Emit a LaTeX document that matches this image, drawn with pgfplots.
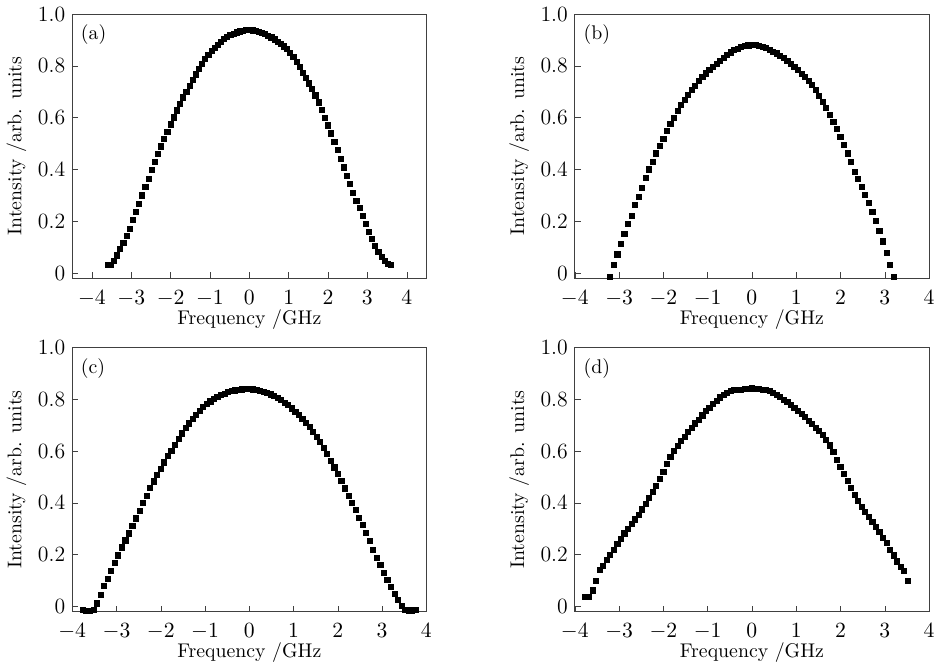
\documentclass[border=0pt]{standalone}
\usepackage{pgfplots}
\pgfplotsset{compat=1.18}
\usepgfplotslibrary{groupplots}
\pgfplotsset{sq/.style={black, only marks, mark=square*, mark size=1.3pt}}
\begin{document}
\begin{tikzpicture}[font=\fontsize{10}{12}\selectfont]
\begin{groupplot}[
  group style={group size=2 by 2, horizontal sep=75pt, vertical sep=35pt},
  width=179pt, height=133.5pt, scale only axis,
  xmin=-4, xmax=4, ymin=-0.02, ymax=1.0,
  xtick={-4,...,4},
  ytick={0,0.2,0.4,0.6,0.8,1.0}, yticklabels={0,0.2,0.4,0.6,0.8,1.0},
  tick align=inside, xtick pos=bottom, ytick pos=left,
  major tick length=3pt,
  tick label style={font=\fontsize{11}{13}\selectfont},
  xticklabel style={yshift=-2.5pt},
  axis line style={black!75}, tick style={black!75},
  xlabel={Frequency /GHz}, ylabel={Intensity /arb. units},
  xlabel style={yshift=5pt}, ylabel style={yshift=-1pt},
]
% (a)
\nextgroupplot[xmin=-4.5, xmax=4.5]
\addplot[sq] coordinates {
(-3.60,0.030) (-3.52,0.032) (-3.44,0.048) (-3.36,0.068) (-3.28,0.092) (-3.20,0.118)
(-3.12,0.145) (-3.04,0.172) (-2.96,0.205) (-2.88,0.237) (-2.80,0.268) (-2.72,0.300)
(-2.64,0.333) (-2.56,0.365) (-2.48,0.397) (-2.40,0.428) (-2.32,0.459) (-2.24,0.489)
(-2.16,0.518) (-2.08,0.546) (-2.00,0.574) (-1.92,0.601) (-1.84,0.628) (-1.76,0.654)
(-1.68,0.678) (-1.60,0.701) (-1.52,0.724) (-1.44,0.746) (-1.36,0.767) (-1.28,0.788)
(-1.20,0.808) (-1.12,0.826) (-1.04,0.842) (-0.96,0.857) (-0.88,0.870) (-0.80,0.882)
(-0.72,0.893) (-0.64,0.903) (-0.56,0.911) (-0.48,0.918) (-0.40,0.924) (-0.32,0.929)
(-0.24,0.933) (-0.16,0.936) (-0.08,0.938) (0.00,0.940) (0.08,0.937) (0.16,0.934)
(0.24,0.930) (0.32,0.926) (0.40,0.922) (0.48,0.917) (0.56,0.910) (0.64,0.902)
(0.72,0.893) (0.80,0.884) (0.88,0.875) (0.96,0.864) (1.04,0.850) (1.12,0.834)
(1.20,0.815) (1.28,0.795) (1.36,0.774) (1.44,0.753) (1.52,0.732) (1.60,0.710)
(1.68,0.686) (1.76,0.659) (1.84,0.630) (1.92,0.600) (2.00,0.570) (2.08,0.539)
(2.16,0.507) (2.24,0.474) (2.32,0.441) (2.40,0.408) (2.48,0.376) (2.56,0.343)
(2.64,0.311) (2.72,0.280) (2.80,0.250) (2.88,0.220) (2.96,0.190) (3.04,0.160)
(3.12,0.131) (3.20,0.105) (3.28,0.082) (3.36,0.062) (3.44,0.046) (3.52,0.034)
(3.60,0.030)
};
\node[anchor=north west] at (rel axis cs:0.005,0.985) {(a)};
% (b)
\nextgroupplot
\addplot[sq] coordinates {
(-3.20,-0.015) (-3.12,0.030) (-3.04,0.072) (-2.96,0.112) (-2.88,0.150) (-2.80,0.190)
(-2.72,0.222) (-2.64,0.262) (-2.56,0.295) (-2.48,0.330) (-2.40,0.368) (-2.32,0.400)
(-2.24,0.430) (-2.16,0.462) (-2.08,0.490) (-2.00,0.518) (-1.92,0.548) (-1.84,0.575)
(-1.76,0.600) (-1.68,0.625) (-1.60,0.648) (-1.52,0.668) (-1.44,0.688) (-1.36,0.706)
(-1.28,0.724) (-1.20,0.741) (-1.12,0.756) (-1.04,0.771) (-0.96,0.785) (-0.88,0.797)
(-0.80,0.808) (-0.72,0.819) (-0.64,0.832) (-0.56,0.843) (-0.48,0.852) (-0.40,0.860)
(-0.32,0.866) (-0.24,0.872) (-0.16,0.876) (-0.08,0.879) (0.00,0.881) (0.08,0.880)
(0.16,0.877) (0.24,0.873) (0.32,0.868) (0.40,0.862) (0.48,0.855) (0.56,0.848)
(0.64,0.839) (0.72,0.830) (0.80,0.819) (0.88,0.807) (0.96,0.795) (1.04,0.783)
(1.12,0.770) (1.20,0.757) (1.28,0.742) (1.36,0.726) (1.44,0.706) (1.52,0.684)
(1.60,0.661) (1.68,0.636) (1.76,0.610) (1.84,0.584) (1.92,0.556) (2.00,0.526)
(2.08,0.495) (2.16,0.462) (2.24,0.428) (2.32,0.392) (2.40,0.362) (2.48,0.333)
(2.56,0.302) (2.64,0.270) (2.72,0.235) (2.80,0.200) (2.88,0.163) (2.96,0.122)
(3.04,0.078) (3.12,0.032) (3.20,-0.015)
};
\node[anchor=north west] at (rel axis cs:0.005,0.985) {(b)};
% (c)
\nextgroupplot
\addplot[sq] coordinates {
(-3.76,-0.013) (-3.68,-0.016) (-3.60,-0.016) (-3.52,-0.014) (-3.44,0.012) (-3.36,0.045)
(-3.28,0.078) (-3.20,0.105) (-3.12,0.137) (-3.04,0.168) (-2.96,0.197) (-2.88,0.228)
(-2.80,0.255) (-2.72,0.282) (-2.64,0.310) (-2.56,0.340) (-2.48,0.370) (-2.40,0.400)
(-2.32,0.428) (-2.24,0.457) (-2.16,0.483) (-2.08,0.508) (-2.00,0.532) (-1.92,0.556)
(-1.84,0.580) (-1.76,0.602) (-1.68,0.624) (-1.60,0.646) (-1.52,0.668) (-1.44,0.688)
(-1.36,0.707) (-1.28,0.725) (-1.20,0.741) (-1.12,0.756) (-1.04,0.769) (-0.96,0.781)
(-0.88,0.792) (-0.80,0.801) (-0.72,0.809) (-0.64,0.816) (-0.56,0.822) (-0.48,0.827)
(-0.40,0.831) (-0.32,0.834) (-0.24,0.836) (-0.16,0.838) (-0.08,0.839) (0.00,0.839)
(0.08,0.838) (0.16,0.836) (0.24,0.833) (0.32,0.829) (0.40,0.825) (0.48,0.819)
(0.56,0.812) (0.64,0.804) (0.72,0.796) (0.80,0.787) (0.88,0.777) (0.96,0.765)
(1.04,0.752) (1.12,0.739) (1.20,0.725) (1.28,0.709) (1.36,0.692) (1.44,0.674)
(1.52,0.656) (1.60,0.635) (1.68,0.612) (1.76,0.588) (1.84,0.563) (1.92,0.537)
(2.00,0.511) (2.08,0.484) (2.16,0.456) (2.24,0.428) (2.32,0.400) (2.40,0.372)
(2.48,0.343) (2.56,0.314) (2.64,0.284) (2.72,0.252) (2.80,0.220) (2.88,0.189)
(2.96,0.160) (3.04,0.131) (3.12,0.103) (3.20,0.077) (3.28,0.050) (3.36,0.024)
(3.44,0.002) (3.52,-0.013) (3.60,-0.015) (3.68,-0.015) (3.76,-0.012)
};
\node[anchor=north west] at (rel axis cs:0.005,0.985) {(c)};
% (d)
\nextgroupplot
\addplot[sq] coordinates {
(-3.76,0.036) (-3.68,0.036) (-3.60,0.062) (-3.52,0.100) (-3.44,0.140) (-3.36,0.158)
(-3.28,0.180) (-3.20,0.200) (-3.12,0.220) (-3.04,0.240) (-2.96,0.262) (-2.88,0.282)
(-2.80,0.300) (-2.72,0.318) (-2.64,0.336) (-2.56,0.355) (-2.48,0.375) (-2.40,0.396)
(-2.32,0.418) (-2.24,0.442) (-2.16,0.467) (-2.08,0.493) (-2.00,0.518) (-1.92,0.550)
(-1.84,0.578) (-1.76,0.600) (-1.68,0.620) (-1.60,0.638) (-1.52,0.656) (-1.44,0.673)
(-1.36,0.690) (-1.28,0.707) (-1.20,0.722) (-1.12,0.738) (-1.04,0.754) (-0.96,0.768)
(-0.88,0.781) (-0.80,0.795) (-0.72,0.807) (-0.64,0.818) (-0.56,0.826) (-0.48,0.832)
(-0.40,0.835) (-0.32,0.836) (-0.24,0.837) (-0.16,0.839) (-0.08,0.841) (0.00,0.842)
(0.08,0.841) (0.16,0.839) (0.24,0.837) (0.32,0.835) (0.40,0.831) (0.48,0.825)
(0.56,0.817) (0.64,0.808) (0.72,0.799) (0.80,0.789) (0.88,0.779) (0.96,0.768)
(1.04,0.756) (1.12,0.744) (1.20,0.731) (1.28,0.718) (1.36,0.705) (1.44,0.691)
(1.52,0.677) (1.60,0.662) (1.68,0.644) (1.76,0.622) (1.84,0.597) (1.92,0.567)
(2.00,0.540) (2.08,0.512) (2.16,0.486) (2.24,0.458) (2.32,0.431) (2.40,0.408)
(2.48,0.386) (2.56,0.365) (2.64,0.346) (2.72,0.328) (2.80,0.308) (2.88,0.288)
(2.96,0.266) (3.04,0.244) (3.12,0.220) (3.20,0.197) (3.28,0.174) (3.36,0.154)
(3.44,0.138) (3.52,0.100)
};
\node[anchor=north west] at (rel axis cs:0.005,0.985) {(d)};
\end{groupplot}
\end{tikzpicture}
\end{document}
